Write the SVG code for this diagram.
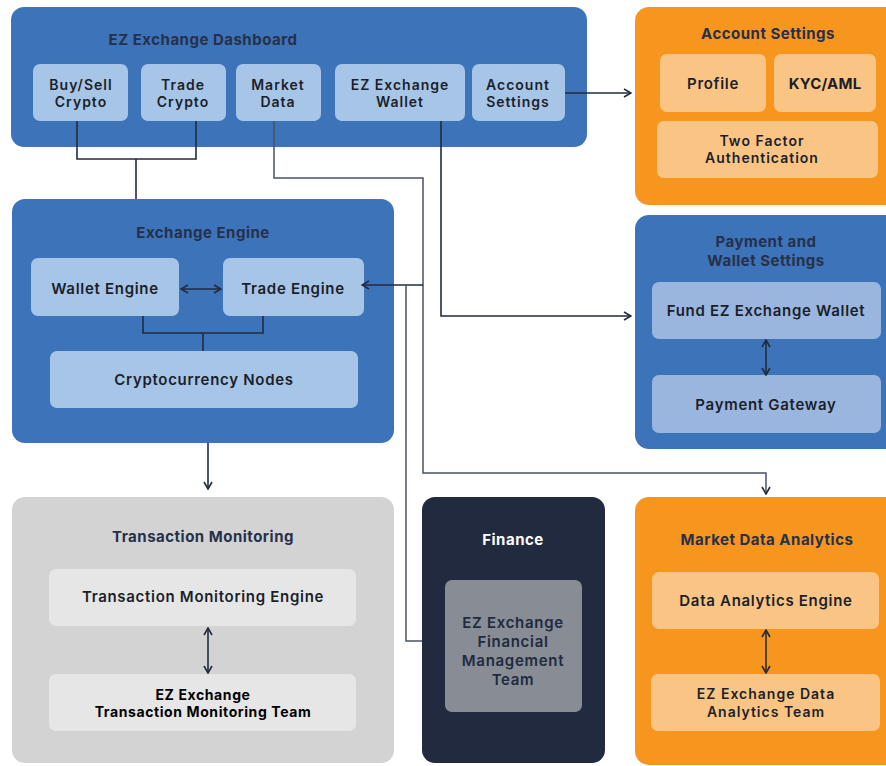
<svg xmlns="http://www.w3.org/2000/svg" width="886" height="766" viewBox="0 0 886 766">
<defs>
<style>
text{font-family:Inter,"Open Sans","Liberation Sans",sans-serif;text-anchor:middle}
.t{font-size:15px;font-weight:700;fill:#26304a;letter-spacing:0.5px}
.l{font-size:15px;font-weight:600;fill:#1b1f2a;letter-spacing:0.7px}
.m{font-size:14px;letter-spacing:1px}
.blue{fill:#3d73b9}
.lb{fill:#a7c5e7}
.lb2{fill:#9ab6de}
.or{fill:#f7961e}
.lo{fill:#fac584}
.gr{fill:#d3d3d3}
.lg{fill:#e6e6e6}
.c{fill:none;stroke:#222b3d;stroke-width:1.6}
.c2{fill:none;stroke:#4a5264;stroke-width:1.5}
</style>
<marker id="ah" viewBox="0 0 10 10" refX="9" refY="5" markerWidth="10" markerHeight="10" markerUnits="userSpaceOnUse" orient="auto-start-reverse">
<path d="M2,1 L9,5 L2,9" fill="none" stroke="#222b3d" stroke-width="1.6"/>
</marker>
</defs>
<rect width="886" height="766" fill="#fff"/>

<g id="dashboard">
<rect class="blue" x="11" y="7" width="576" height="140" rx="13"/>
<text class="t" x="203" y="45">EZ Exchange Dashboard</text>
</g>
<g id="buysell"><rect class="lb" x="33" y="64" width="95" height="57" rx="7"/><text class="l m" x="81" y="90">Buy/Sell<tspan x="81" dy="17">Crypto</tspan></text></g>
<g id="tradecrypto"><rect class="lb" x="141" y="64" width="85" height="57" rx="7"/><text class="l m" x="183" y="90">Trade<tspan x="183" dy="17">Crypto</tspan></text></g>
<g id="marketdata"><rect class="lb" x="236" y="64" width="85" height="57" rx="7"/><text class="l m" x="278" y="90">Market<tspan x="278" dy="17">Data</tspan></text></g>
<g id="wallet"><rect class="lb" x="335" y="64" width="130" height="57" rx="7"/><text class="l m" x="400" y="90">EZ Exchange<tspan x="400" dy="17">Wallet</tspan></text></g>
<g id="accountbtn"><rect class="lb" x="472" y="64" width="93" height="57" rx="7"/><text class="l m" x="518" y="90">Account<tspan x="518" dy="17">Settings</tspan></text></g>

<g id="accountsettings">
<rect class="or" x="635" y="7" width="270" height="198" rx="14"/>
<text class="t" x="768" y="39">Account Settings</text>
</g>
<g id="profile"><rect class="lo" x="660" y="54" width="106" height="58" rx="7"/><text class="l" x="713" y="89">Profile</text></g>
<g id="kyc"><rect class="lo" x="774" y="54" width="102" height="58" rx="7"/><text class="l" x="825" y="89" style="font-weight:700;letter-spacing:0.2px">KYC/AML</text></g>
<g id="twofactor"><rect class="lo" x="657" y="121" width="221" height="57" rx="7"/><text class="l m" x="762" y="146">Two Factor<tspan x="762" dy="17">Authentication</tspan></text></g>

<g id="payment">
<rect class="blue" x="635" y="215" width="270" height="234" rx="14"/>
<text class="t" x="766" y="247">Payment and<tspan x="766" dy="19">Wallet Settings</tspan></text>
</g>
<g id="fund"><rect class="lb2" x="652" y="282" width="229" height="57" rx="7"/><text class="l" x="766" y="316">Fund EZ Exchange Wallet</text></g>
<g id="gateway"><rect class="lb2" x="652" y="375" width="229" height="58" rx="7"/><text class="l" x="766" y="410">Payment Gateway</text></g>

<g id="exchangeengine">
<rect class="blue" x="12" y="199" width="382" height="244" rx="13"/>
<text class="t" x="203" y="238">Exchange Engine</text>
</g>
<g id="walletengine"><rect class="lb" x="31" y="258" width="148" height="58" rx="7"/><text class="l" x="105" y="294">Wallet Engine</text></g>
<g id="tradeengine"><rect class="lb" x="223" y="258" width="141" height="58" rx="7"/><text class="l" x="293" y="294">Trade Engine</text></g>
<g id="nodes"><rect class="lb" x="50" y="351" width="308" height="57" rx="7"/><text class="l" x="204" y="385">Cryptocurrency Nodes</text></g>

<g id="txmonitoring">
<rect class="gr" x="12" y="497" width="382" height="266" rx="13"/>
<text class="t" x="203" y="542">Transaction Monitoring</text>
</g>
<g id="txengine"><rect class="lg" x="49" y="569" width="307" height="57" rx="7"/><text class="l" x="203" y="602">Transaction Monitoring Engine</text></g>
<g id="txteam"><rect class="lg" x="49" y="674" width="307" height="57" rx="7"/><text class="l m" x="203" y="700" style="font-weight:700;fill:#000;letter-spacing:0.6px">EZ Exchange<tspan x="203" dy="17">Transaction Monitoring Team</tspan></text></g>

<g id="finance">
<rect fill="#212a3e" x="422" y="497" width="183" height="266" rx="13"/>
<text class="t" x="513" y="545" style="fill:#fff">Finance</text>
</g>
<g id="finteam"><rect fill="#878c95" x="445" y="580" width="137" height="132" rx="7"/>
<text class="l" x="513" y="628" style="fill:#212a3e">EZ Exchange<tspan x="513" dy="19">Financial</tspan><tspan x="513" dy="19">Management</tspan><tspan x="513" dy="19">Team</tspan></text></g>

<g id="analytics">
<rect class="or" x="635" y="497" width="270" height="268" rx="14"/>
<text class="t" x="767" y="545">Market Data Analytics</text>
</g>
<g id="daengine"><rect class="lo" x="652" y="572" width="227" height="57" rx="7"/><text class="l" x="766" y="606">Data Analytics Engine</text></g>
<g id="dateam"><rect class="lo" x="651" y="674" width="229" height="57" rx="7"/><text class="l m" x="766" y="699">EZ Exchange Data<tspan x="766" dy="18">Analytics Team</tspan></text></g>

<g id="connectors">
<path class="c" d="M77,121 V159 H196 V121 M136,159 V199"/>
<path class="c2" d="M274,121 V178 H423 V473 H766 V494" marker-end="url(#ah)"/>
<path class="c" d="M441,121 V316 H631" marker-end="url(#ah)"/>
<path class="c" d="M565,93 H631" marker-end="url(#ah)"/>
<path class="c" d="M423,285 H362" marker-end="url(#ah)"/>
<path class="c2" d="M406,285 V641 H422"/>
<path class="c" d="M181,289 H221" marker-start="url(#ah)" marker-end="url(#ah)"/>
<path class="c" d="M143,316 V333 H263 V316 M203,333 V351"/>
<path class="c" d="M208,443 V489" marker-end="url(#ah)"/>
<path class="c" d="M766,340 V375" marker-start="url(#ah)" marker-end="url(#ah)"/>
<path class="c" d="M208,628 V673" marker-start="url(#ah)" marker-end="url(#ah)"/>
<path class="c" d="M766,630 V673" marker-start="url(#ah)" marker-end="url(#ah)"/>
</g>
</svg>
